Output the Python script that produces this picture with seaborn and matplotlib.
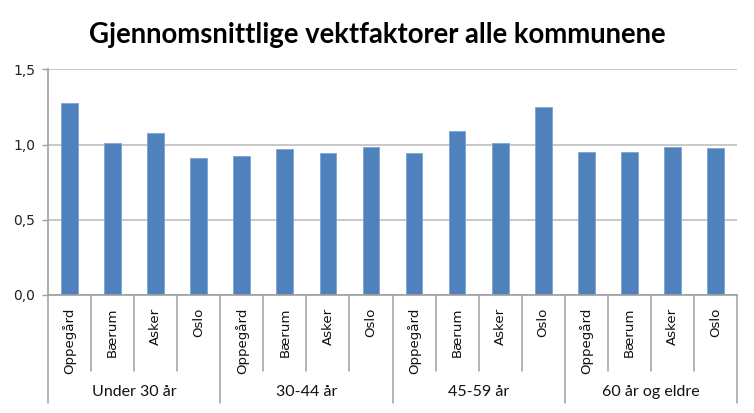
import matplotlib
matplotlib.use("Agg")
import matplotlib.pyplot as plt
import matplotlib.transforms as mtransforms
import seaborn as sns
import pandas as pd

groups = ["Under 30 år", "30-44 år", "45-59 år", "60 år og eldre"]
kommuner = ["Oppegård", "Bærum", "Asker", "Oslo"]
verdier_under30 = [1.278, 1.013, 1.076, 0.909]
verdier_30_44 = [0.927, 0.967, 0.944, 0.982]
verdier_45_59 = [0.944, 1.087, 1.013, 1.249]
verdier_60pluss = [0.951, 0.951, 0.982, 0.976]
yticks = [0.0, 0.5, 1.0, 1.5]
ytick_labels = ["0,0", "0,5", "1,0", "1,5"]

all_vals = [verdier_under30, verdier_30_44, verdier_45_59, verdier_60pluss]
rows = []
for g, vals in zip(groups, all_vals):
    for k, v in zip(kommuner, vals):
        rows.append({"gruppe": g, "kommune": k, "verdi": v})
df = pd.DataFrame(rows)
df["pos"] = range(len(df))

sns.set_style("white")
plt.rcParams["font.family"] = ["Lato", "DejaVu Sans"]

fig = plt.figure(figsize=(7.54, 4.13), dpi=100)
ax = fig.add_axes([48 / 754, 1 - 295 / 413, (737 - 48) / 754, (295 - 69.3) / 413])

sns.barplot(data=df, x="pos", y="verdi", ax=ax, color="#4F81BD", width=0.39,
            edgecolor="#7FA3D3", linewidth=0.6, saturation=1, errorbar=None)

ax.set_ylim(0, 1.5)
ax.set_xlim(-0.5, len(df) - 0.5)
ax.set_yticks(yticks)
ax.set_yticklabels(ytick_labels, fontsize=10, color="#222222")
ax.yaxis.grid(True, color="#BFBFBF", linewidth=1.2)
ax.set_axisbelow(True)
ax.set_xlabel("")
ax.set_ylabel("")
ax.set_xticks(df["pos"])
ax.set_xticklabels(df["kommune"], rotation=90, fontsize=9.6, color="#111111")
for lab in ax.get_xticklabels() + ax.get_yticklabels():
    lab.set_fontfamily(["DejaVu Sans"])
ax.tick_params(axis="x", length=0, pad=9)
ax.tick_params(axis="y", length=4, width=1, color="#A0A0A0", left=True, pad=5)
for s in ["top", "right"]:
    ax.spines[s].set_visible(False)
for s in ["left", "bottom"]:
    ax.spines[s].set_color("#A0A0A0")
    ax.spines[s].set_linewidth(1.2)

# separators below the axis
trans = mtransforms.blended_transform_factory(ax.transData, fig.transFigure)
y0 = 1 - 295 / 413
y_inner = 1 - 371 / 413
y_group = 1 - 403 / 413
n = len(df)
for i in range(n + 1):
    xb = i - 0.5
    is_group = (i % len(kommuner) == 0)
    ax.plot([xb, xb], [y0, y_group if is_group else y_inner], transform=trans,
            color="#A0A0A0", linewidth=1.1, clip_on=False)

for gi, g in enumerate(groups):
    xc = gi * len(kommuner) + (len(kommuner) - 1) / 2
    ax.text(xc, 1 - 392 / 413, g, transform=trans, ha="center", va="center",
            fontsize=11.5, color="#111111")

fig.text(377 / 754, 1 - 35 / 413, "Gjennomsnittlige vektfaktorer alle kommunene",
         ha="center", va="center", fontsize=19.8, fontweight="bold", color="#000000")

fig.savefig("out.png", dpi=100)
